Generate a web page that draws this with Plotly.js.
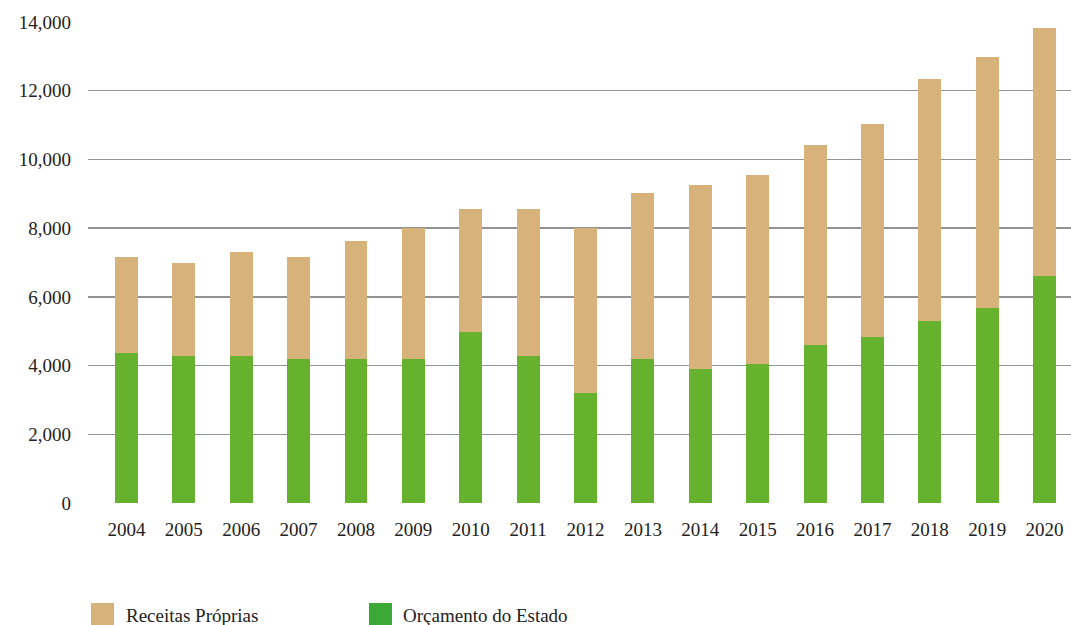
<!DOCTYPE html>
<html>
<head>
<meta charset="utf-8">
<script src="https://cdn.plot.ly/plotly-3.0.1.min.js"></script>
<style>html,body{margin:0;padding:0;background:#fff;}#chart{width:1071px;height:625px;}</style>
</head>
<body>
<div id="chart"></div>
<script>
const years = ['2004','2005','2006','2007','2008','2009','2010','2011','2012','2013','2014','2015','2016','2017','2018','2019','2020'];
const orcamentoEstado = [4370,4280,4280,4200,4200,4200,4980,4280,3200,4200,3900,4050,4600,4840,5300,5680,6610];
const receitasProprias = [2780,2700,3020,2950,3420,3800,3580,4280,4810,4830,5360,5500,5820,6190,7040,7300,7220];
const yTicks = [0,2000,4000,6000,8000,10000,12000,14000];
const yTickLabels = ['0','2,000','4,000','6,000','8,000','10,000','12,000','14,000'];
const nameReceitas = 'Receitas Próprias';
const nameOrcamento = 'Orçamento do Estado';

const tan = '#d7b27b';
const green = '#66b22f';
const legendGreen = '#3aa935';
const font = 'Liberation Serif, serif';

const traces = [
  {type:'bar', name:nameOrcamento, x:years, y:orcamentoEstado, marker:{color:green}, width:0.4, hoverinfo:'x+y'},
  {type:'bar', name:nameReceitas, x:years, y:receitasProprias, marker:{color:tan}, width:0.4, hoverinfo:'x+y'}
];

const layout = {
  width:1071, height:625,
  margin:{l:88, r:0, t:22, b:122},
  barmode:'stack',
  showlegend:false,
  paper_bgcolor:'#fff', plot_bgcolor:'#fff',
  font:{family:font, size:19, color:'#222'},
  xaxis:{type:'category', range:[-0.67,16.46], showgrid:false, zeroline:false, showline:false,
         ticks:'', ticklabelstandoff:13, tickfont:{family:font, size:19, color:'#222'}},
  yaxis:{range:[0,14000], tickvals:yTicks, ticktext:yTickLabels, showgrid:true, gridcolor:'#939393', gridwidth:1.5,
         zeroline:false, showline:false, ticks:'', ticklabelstandoff:16, tickfont:{family:font, size:19, color:'#222'}},
  shapes:[
    {type:'rect', xref:'paper', yref:'paper', x0:(91-88)/983, x1:(114-88)/983, y0:(503-626)/481, y1:(503-603)/481, fillcolor:tan, line:{width:0}},
    {type:'rect', xref:'paper', yref:'paper', x0:(369-88)/983, x1:(392-88)/983, y0:(503-626)/481, y1:(503-603)/481, fillcolor:legendGreen, line:{width:0}}
  ],
  annotations:[
    {xref:'paper', yref:'paper', x:(124-88)/983, y:(503-615)/481, xanchor:'left', yanchor:'middle', text:nameReceitas, showarrow:false, font:{family:font, size:19, color:'#222'}},
    {xref:'paper', yref:'paper', x:(401-88)/983, y:(503-615)/481, xanchor:'left', yanchor:'middle', text:nameOrcamento, showarrow:false, font:{family:font, size:19, color:'#222'}}
  ]
};

Plotly.newPlot('chart', traces, layout, {displayModeBar:false, staticPlot:true});
</script>
</body>
</html>
